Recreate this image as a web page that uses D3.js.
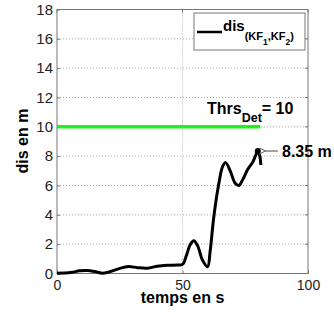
<!DOCTYPE html>
<html><head><meta charset="utf-8">
<script src="https://cdn.jsdelivr.net/npm/d3@7"></script>
<style>
html,body{margin:0;padding:0;background:#fff;}
text{font-family:"Liberation Sans",Arial,Helvetica,sans-serif;}
</style></head>
<body><svg id="c" width="334" height="315"></svg>
<script>
const timeS = [0,3,6,9,12,15,18,21,25,28.5,32,36,40,44,48,50,51.5,53,54.5,56,58,60,61,62.5,64.5,66,67.2,69,71,72.5,74,76,78,79,80,80.8,81.2];
const disM  = [0.02,0.03,0.08,0.18,0.2,0.13,0.02,0.12,0.35,0.47,0.4,0.36,0.5,0.56,0.58,0.62,1.2,1.95,2.24,1.9,0.9,0.46,1.5,3.9,6.15,7.3,7.56,7.0,6.15,6.0,6.4,7.1,7.6,8.0,8.35,8.0,7.4];
const thrsT = [0,81];
const thrsV = [10,10];
const xTicks = [0,50,100];
const yTicks = [0,2,4,6,8,10,12,14,16,18];
const markT = 80, markV = 8.35;

const svg = d3.select("#c");
const L=57,R=308,T=9.5,B=273.5;
const x = d3.scaleLinear().domain([0,100]).range([L,R]);
const y = d3.scaleLinear().domain([0,18]).range([B,T]);

svg.append("defs").append("marker").attr("id","ah").attr("viewBox","0 0 10 10")
 .attr("refX",1).attr("refY",5).attr("markerWidth",7).attr("markerHeight",7)
 .attr("markerUnits","userSpaceOnUse").attr("orient","auto")
 .append("path").attr("d","M10,0 L0,5 L10,10").attr("fill","none").attr("stroke","#666").attr("stroke-width",1.5);

// grid
const g = svg.append("g");
g.selectAll(".gy").data(yTicks.filter(d=>d>0&&d<18)).enter().append("line")
 .attr("x1",L).attr("x2",R).attr("y1",d=>y(d)).attr("y2",d=>y(d))
 .attr("stroke","#aaa").attr("stroke-width",1).attr("stroke-dasharray","1,2");
g.selectAll(".gx").data(xTicks.filter(d=>d>0&&d<100)).enter().append("line")
 .attr("y1",T).attr("y2",B).attr("x1",d=>x(d)).attr("x2",d=>x(d))
 .attr("stroke","#aaa").attr("stroke-width",1).attr("stroke-dasharray","1,2");

// axes
const ax = d3.axisBottom(x).tickValues(xTicks).tickSize(-3).tickPadding(7);
const ay = d3.axisLeft(y).tickValues(yTicks).tickSize(-3).tickPadding(4);
const gx = svg.append("g").attr("transform",`translate(0,${B})`).call(ax);
const gy = svg.append("g").attr("transform",`translate(${L},0)`).call(ay);
[gx,gy].forEach(a=>{
  a.select(".domain").remove();
  a.selectAll("line").attr("stroke","#777");
  a.selectAll("text").attr("font-size",15).attr("fill","#222")
   .attr("font-family","'Liberation Sans',Arial,sans-serif");
});
gx.selectAll("text").attr("font-size",14).attr("dy",0).attr("y",16);
// top-side ticks and right ticks
svg.append("g").selectAll("line").data(xTicks).enter().append("line")
 .attr("x1",d=>x(d)).attr("x2",d=>x(d)).attr("y1",T).attr("y2",T+3).attr("stroke","#777");
svg.append("g").selectAll("line").data(yTicks).enter().append("line")
 .attr("x1",R).attr("x2",R-3).attr("y1",d=>y(d)).attr("y2",d=>y(d)).attr("stroke","#777");
svg.append("rect").attr("x",L).attr("y",T).attr("width",R-L).attr("height",B-T)
 .attr("fill","none").attr("stroke","#777").attr("stroke-width",1);

// threshold
svg.append("line").attr("x1",x(thrsT[0])).attr("x2",x(thrsT[1]))
 .attr("y1",y(thrsV[0])).attr("y2",y(thrsV[1]))
 .attr("stroke","#22ee22").attr("stroke-width",3.5);

// curve
const pts = timeS.map((t,i)=>[t,disM[i]]);
svg.append("path").datum(pts)
 .attr("d",d3.line().x(d=>x(d[0])).y(d=>y(d[1])).curve(d3.curveCatmullRom.alpha(0.5)))
 .attr("fill","none").attr("stroke","#000").attr("stroke-width",3).attr("stroke-linejoin","round");

svg.append("circle").attr("cx",x(markT)).attr("cy",y(markV)).attr("r",3).attr("fill","#000");

// annotation arrow
svg.append("line").attr("x1",x(markT)+20).attr("x2",x(markT)+7)
 .attr("y1",y(markV)).attr("y2",y(markV)).attr("stroke","#666").attr("stroke-width",1.2)
 .attr("marker-end","url(#ah)");
svg.append("text").attr("x",282).attr("y",y(markV)+5.5).attr("font-size",16).attr("font-weight","bold").attr("fill","#000").text(markV.toFixed(2)+" m");

// threshold label
const th = svg.append("text").attr("x",207).attr("y",114).attr("font-weight","bold").attr("font-size",16);
th.append("tspan").text("Thrs");
th.append("tspan").attr("font-size",12.5).attr("dy",8).text("Det");
th.append("tspan").attr("dy",-8).text("= "+thrsV[0]);

// axis titles
svg.append("text").attr("x",(L+R)/2).attr("y",302.5).attr("text-anchor","middle")
 .attr("font-weight","bold").attr("font-size",16).text("temps en s");
svg.append("text").attr("transform",`translate(28,141) rotate(-90)`).attr("text-anchor","middle")
 .attr("font-weight","bold").attr("font-size",16).text("dis en m");

// legend
svg.append("rect").attr("x",194).attr("y",13).attr("width",111).attr("height",37)
 .attr("fill","#fff").attr("stroke","#777");
svg.append("line").attr("x1",197).attr("x2",222).attr("y1",32).attr("y2",32).attr("stroke","#000").attr("stroke-width",2.5);
const lt = svg.append("text").attr("x",223).attr("y",31).attr("font-weight","bold").attr("font-size",15);
lt.append("tspan").text("dis");
lt.append("tspan").attr("font-size",11).attr("dy",9).text("(KF");
lt.append("tspan").attr("font-size",8.5).attr("dy",5).text("1");
lt.append("tspan").attr("font-size",11).attr("dy",-5).text(",KF");
lt.append("tspan").attr("font-size",8.5).attr("dy",5).text("2");
lt.append("tspan").attr("font-size",11).attr("dy",-5).text(")");
</script></body></html>
